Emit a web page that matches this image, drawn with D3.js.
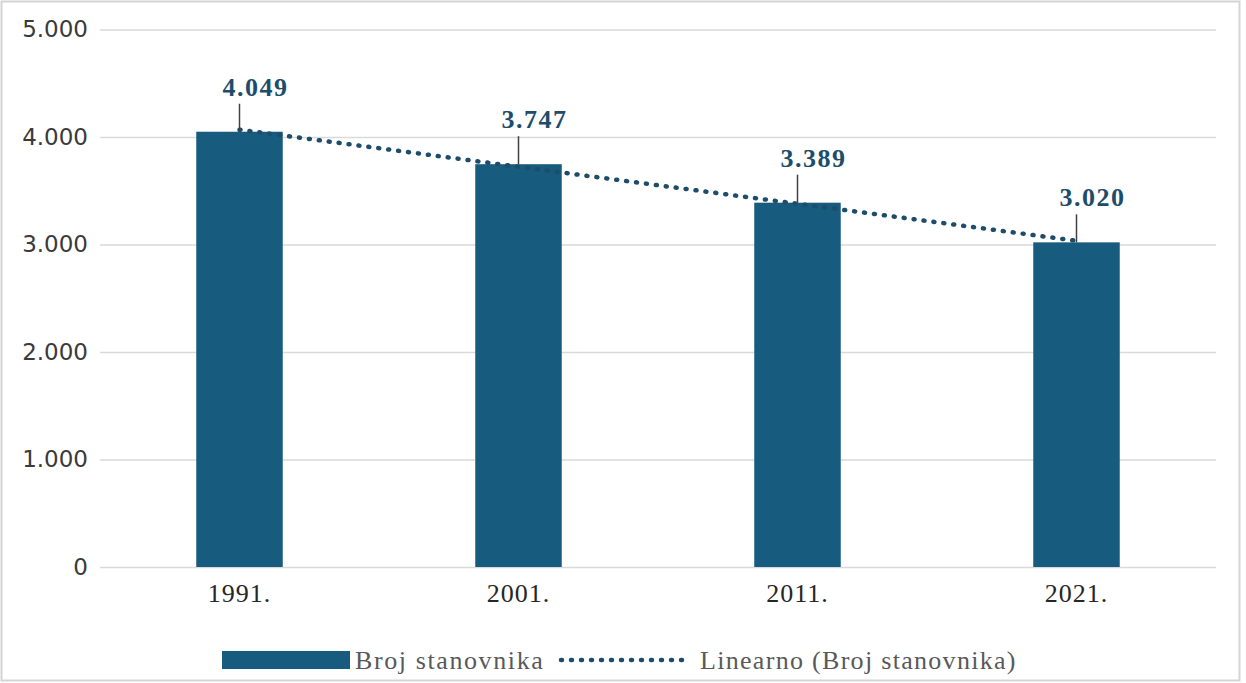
<!DOCTYPE html>
<html>
<head>
<meta charset="utf-8">
<script src="https://cdn.jsdelivr.net/npm/d3@7"></script>
<style>
    body { margin: 0; background: #fff; }
    svg { display: block; }
    .serif { font-family: "Times New Roman", "Liberation Serif", serif; }
</style>
</head>
<body>
<div class="bar-chart"></div>
<script>
const width = 1246;
const height = 683;

const years = ["1991.", "2001.", "2011.", "2021."];
const population = [4049, 3747, 3389, 3020];
const yTicks = [0, 1000, 2000, 3000, 4000, 5000];
const seriesName = "Broj stanovnika";
const trendName = "Linearno (Broj stanovnika)";

const barColor = "#175b7e";
const labelColor = "#1d4d6b";
const fmt = (v) => d3.format(",")(v).replace(/,/g, ".");

function barChart() {
    const svg = d3
        .select(".bar-chart")
        .append("svg")
        .attr("width", width)
        .attr("height", height);

    // light frame round the picture
    svg.append("rect")
        .attr("x", 1.5)
        .attr("y", 1.5)
        .attr("width", 1238)
        .attr("height", 679)
        .attr("fill", "none")
        .attr("stroke", "#d4d4d4")
        .attr("stroke-width", 2);

    const x = d3
        .scaleBand()
        .domain(years)
        .range([100, 1216])
        .paddingInner(0.69)
        .paddingOuter(0.345);

    const y = d3.scaleLinear().domain([0, 5000]).range([567, 29.5]);

    // gridlines + y labels
    const yAxis = svg
        .append("g")
        .attr("transform", "translate(100,0)")
        .call(
            d3.axisLeft(y)
                .tickValues(yTicks)
                .tickSize(-1116)
                .tickPadding(12)
                .tickFormat(fmt)
        );
    yAxis.select(".domain").remove();
    yAxis.selectAll("line").attr("stroke", "#d9d9d9").attr("stroke-width", 1.5);
    yAxis.selectAll("text")
        .attr("fill", "#3a3a3a")
        .style("font-family", "'DejaVu Sans', Verdana, sans-serif")
        .style("font-size", "23px");

    // x labels
    const xAxis = svg
        .append("g")
        .attr("transform", "translate(0,567)")
        .call(d3.axisBottom(x).tickSize(0).tickPadding(10));
    xAxis.select(".domain").remove();
    xAxis.selectAll("text")
        .attr("class", "serif")
        .attr("fill", "#262626")
        .attr("dy", "0.95em")
        .style("font-family", null)
        .style("font-size", "26px")
        .style("letter-spacing", "1px");
    xAxis.attr("font-family", null);

    const data = years.map((yr, i) => ({ year: yr, value: population[i] }));

    svg.selectAll("rect.bar")
        .data(data)
        .enter()
        .append("rect")
        .attr("class", "bar")
        .attr("x", (d) => x(d.year))
        .attr("y", (d) => y(d.value))
        .attr("width", x.bandwidth())
        .attr("height", (d) => y(0) - y(d.value))
        .attr("fill", barColor);

    // linear trend (least squares over the four points)
    const n = population.length;
    const mx = d3.mean(d3.range(n));
    const my = d3.mean(population);
    const slope =
        d3.sum(population, (v, i) => (i - mx) * (v - my)) /
        d3.sum(d3.range(n), (i) => (i - mx) * (i - mx));
    const intercept = my - slope * mx;
    const cx = (d) => x(d.year) + x.bandwidth() / 2;

    svg.append("line")
        .attr("x1", cx(data[0]))
        .attr("y1", y(intercept))
        .attr("x2", cx(data[n - 1]))
        .attr("y2", y(intercept + slope * (n - 1)))
        .attr("stroke", labelColor)
        .attr("stroke-width", 4.5)
        .attr("stroke-linecap", "round")
        .attr("stroke-dasharray", "1 9");

    // data callouts with leader lines
    const labelGap = 36;
    svg.selectAll("line.leader")
        .data(data)
        .enter()
        .append("line")
        .attr("class", "leader")
        .attr("x1", cx)
        .attr("x2", cx)
        .attr("y1", (d) => y(d.value) - labelGap + 8)
        .attr("y2", (d) => y(d.value))
        .attr("stroke", "#404040")
        .attr("stroke-width", 1.5);

    svg.selectAll("text.value")
        .data(data)
        .enter()
        .append("text")
        .attr("class", "value serif")
        .attr("x", (d) => cx(d) + 16)
        .attr("y", (d) => y(d.value) - labelGap)
        .attr("text-anchor", "middle")
        .attr("fill", labelColor)
        .style("font-weight", "bold")
        .style("font-size", "26px")
        .style("letter-spacing", "1.5px")
        .text((d) => fmt(d.value));

    // legend
    const legend = svg.append("g").attr("transform", "translate(0,660)");
    legend.append("rect")
        .attr("x", 222)
        .attr("y", -9)
        .attr("width", 128)
        .attr("height", 18)
        .attr("fill", barColor);
    legend.append("text")
        .attr("class", "serif")
        .attr("x", 355)
        .attr("y", 9)
        .attr("fill", "#595959")
        .style("font-size", "26px")
        .style("letter-spacing", "1.6px")
        .text(seriesName);
    legend.append("line")
        .attr("x1", 561)
        .attr("x2", 690)
        .attr("y1", 0)
        .attr("y2", 0)
        .attr("stroke", labelColor)
        .attr("stroke-width", 4.5)
        .attr("stroke-linecap", "round")
        .attr("stroke-dasharray", "1 9");
    legend.append("text")
        .attr("class", "serif")
        .attr("x", 700)
        .attr("y", 9)
        .attr("fill", "#595959")
        .style("font-size", "26px")
        .style("letter-spacing", "1.3px")
        .text(trendName);
}

barChart();
</script>
</body>
</html>
